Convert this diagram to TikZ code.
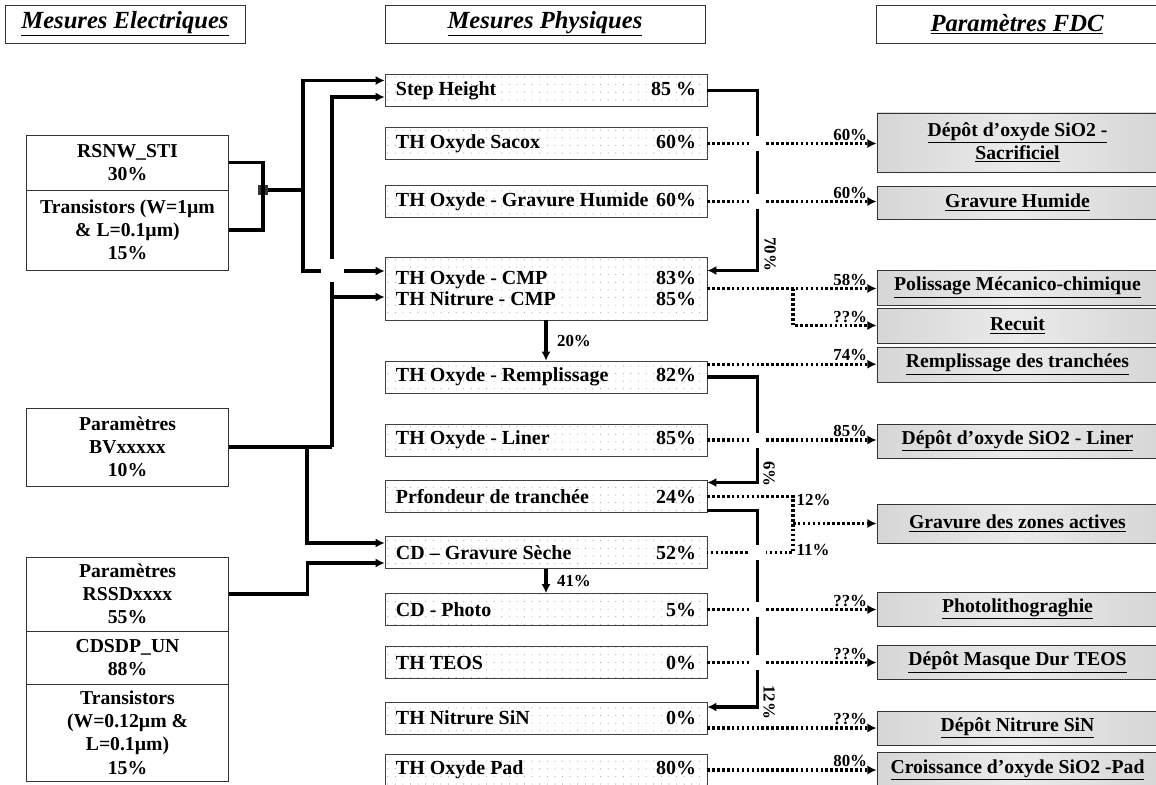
\documentclass[tikz,border=0pt]{standalone}
\usepackage{fontspec}
\setmainfont{Liberation Serif}
\usetikzlibrary{arrows.meta,calc,patterns.meta}

% one line of a measure box: name left, value right
\newcommand{\prow}[2]{\makebox[7.5cm]{#1\hfill#2}}

\tikzset{
  hdr/.style={draw=black!80, minimum height=0.95cm, inner sep=0pt, font=\fontsize{17.5}{20}\selectfont\bfseries\itshape},
  elec/.style={draw=black!80, fill=white, minimum width=5.05cm, align=center, inner sep=0pt, font=\fontsize{14}{16.5}\selectfont\bfseries},
  phys/.style={draw=black!75, preaction={fill=white}, pattern={Dots[distance=0.19cm,radius=0.4pt]}, pattern color=black!35,
    minimum width=8.05cm, minimum height=0.8cm, inner sep=0pt, align=left, font=\fontsize{14.2}{15}\selectfont\bfseries},
  fdc/.style={draw=black!80, left color=gray!32, right color=gray!32, middle color=gray!16,
    minimum width=7.03cm, minimum height=0.85cm, align=center, inner sep=0pt, font=\fontsize{14}{16.5}\selectfont\bfseries},
  link/.style={line width=2.4pt},
  linkarr/.style={link, -{Latex[length=6.5pt,width=6.5pt]}},
  dotlink/.style={line width=2.4pt, dash pattern=on 1.8pt off 1.7pt},
  dotarr/.style={dotlink, -{Latex[length=6.5pt,width=6.5pt]}},
  pct/.style={font=\fontsize{12}{12}\selectfont\bfseries, inner sep=1pt},
  pctl/.style={pct, pos=1, anchor=south east, xshift=-0.16cm},
  pctd/.style={pct, midway, anchor=west, xshift=0.2cm},
  junc/.style={fill=black!80, minimum size=0.25cm, inner sep=0pt},
}

\begin{document}
\begin{tikzpicture}[x=0.025cm,y=-0.025cm]
  \fill[white] (0,0) rectangle (1156,784);
  \useasboundingbox (0,0) rectangle (1156,784);

  % column titles
  \node[hdr, minimum width=6cm] (hElec) at (125,24) {\underline{Mesures Electriques}};
  \node[hdr, minimum width=8cm] (hPhys) at (545,24) {\underline{Mesures Physiques}};
  \node[hdr, minimum width=7.05cm] (hFdc) at (1017,24) {\underline{Paramètres FDC}};

  % electrical measures
  \node[elec, minimum height=1.375cm] (rsnw) at (127.5,162.5) {RSNW\_STI\\30\%};
  \node[elec, minimum height=2cm] (trA) at (127.5,230) {Transistors (W=1µm\\\& L=0.1µm)\\15\%};
  \node[elec, minimum height=1.95cm] (bv) at (127.5,447) {Paramètres\\BVxxxxx\\10\%};
  \node[elec, minimum height=1.85cm] (rssd) at (127.5,594) {Paramètres\\RSSDxxxx\\55\%};
  \node[elec, minimum height=1.325cm] (cdsdp) at (127.5,657.5) {CDSDP\_UN\\88\%};
  \node[elec, minimum height=2.425cm] (trB) at (127.5,732.5) {Transistors\\(W=0.12µm \&\\L=0.1µm)\\15\%};

  % physical measures
  \node[phys] (step) at (546,90.5) {\prow{Step Height}{85 \%}};
  \node[phys] (sacox) at (546,143.5) {\prow{TH Oxyde Sacox}{60\%}};
  \node[phys] (ghum) at (546,201.5) {\prow{TH Oxyde - Gravure Humide}{60\%}};
  \node[phys, minimum height=1.575cm] (cmp) at (546,288.5) {\prow{TH Oxyde - CMP}{83\%}\\\prow{TH Nitrure - CMP}{85\%}};
  \node[phys] (rempl) at (546,377) {\prow{TH Oxyde - Remplissage}{82\%}};
  \node[phys] (liner) at (546,440) {\prow{TH Oxyde - Liner}{85\%}};
  \node[phys] (prof) at (546,496.5) {\prow{Prfondeur de tranchée}{24\%}};
  \node[phys] (cdgs) at (546,552.5) {\prow{CD – Gravure Sèche}{52\%}};
  \node[phys] (cdph) at (546,609.5) {\prow{CD - Photo}{5\%}};
  \node[phys] (teos) at (546,662.5) {\prow{TH TEOS}{0\%}};
  \node[phys] (nsin) at (546,718) {\prow{TH Nitrure SiN}{0\%}};
  \node[phys] (pad) at (546,770) {\prow{TH Oxyde Pad}{80\%}};

  % process steps
  \node[fdc, minimum height=1.475cm] (sacr) at (1017.5,142.5) {\underline{Dépôt d’oxyde SiO2 -}\\\underline{Sacrificiel}};
  \node[fdc, minimum height=0.825cm] (fghum) at (1017.5,202.5) {\underline{Gravure Humide}};
  \node[fdc, minimum height=0.875cm] (poli) at (1017.5,287.5) {\underline{Polissage Mécanico-chimique}};
  \node[fdc, minimum height=0.875cm] (recuit) at (1017.5,325.5) {\underline{Recuit}};
  \node[fdc, minimum height=0.875cm] (frempl) at (1017.5,364.5) {\underline{Remplissage des tranchées}};
  \node[fdc] (fliner) at (1017.5,441) {\underline{Dépôt d’oxyde SiO2 - Liner}};
  \node[fdc, minimum height=0.975cm] (gza) at (1017.5,523.5) {\underline{Gravure des zones actives}};
  \node[fdc] (photo) at (1017.5,609) {\underline{Photolithograghie}};
  \node[fdc] (masque) at (1017.5,662.5) {\underline{Dépôt Masque Dur TEOS}};
  \node[fdc] (fnsin) at (1017.5,728) {\underline{Dépôt Nitrure SiN}};
  \node[fdc, minimum height=0.875cm] (crois) at (1017.5,770) {\underline{Croissance d’oxyde SiO2 -Pad}};

  % electrical -> physical
  \node[junc] (jA) at (263,190) {};
  \draw[link] (rsnw.east) -| (jA.center) |- (trA.east);
  \coordinate (vA) at (303,190);
  \draw[link] (jA) -- (vA);
  \draw[linkarr] (vA) |- ($(step.west)+(0,-10)$);
  \draw[linkarr] (vA) |- ($(cmp.west)+(0,-17.5)$);
  \coordinate (vB) at (332,447);
  \coordinate (vC) at (307,447);
  \draw[link] (bv.east) -- (vB);
  \draw[linkarr] (vB) |- ($(step.west)+(0,6.5)$);
  \draw[linkarr] (vB) |- ($(cmp.west)+(0,8.5)$);
  \draw[linkarr] (vC) |- ($(cdgs.west)+(0,-9.5)$);
  \draw[linkarr] (rssd.east) -- ++(79,0) |- ($(cdgs.west)+(0,10.5)$);

  % physical -> physical
  \draw[linkarr] (step.east) -- ++(50,0) |- ($(cmp.east)+(0,-18)$);
  \node[pct, rotate=-90] (l70) at (770,254) {70\%};
  \draw[linkarr] (cmp.south) -- (rempl.north) node[pctd] (l20) {20\%};
  \draw[linkarr] (rempl.east) -- ++(50,0) |- ($(prof.east)+(0,-14)$);
  \node[pct, rotate=-90] (l6) at (769,474) {6\%};
  \draw[linkarr] ($(prof.east)+(0,14)$) -- ++(50,0) |- ($(nsin.east)+(0,-11)$);
  \node[pct, rotate=-90] (l12b) at (769,702) {12\%};
  \draw[linkarr] (cdgs.south) -- (cdph.north) node[pctd] (l41) {41\%};

  % physical -> process steps
  \draw[dotarr] (sacox.east) -- (sacox.east -| sacr.west) node[pctl] (l60a) {60\%};
  \draw[dotarr] (ghum.east) -- (ghum.east -| fghum.west) node[pctl] (l60b) {60\%};
  \draw[dotarr] (cmp.east) -- (cmp.east -| poli.west) node[pctl] (l58) {58\%};
  \coordinate (bC) at (793,288.5);
  \draw[dotarr] (bC) |- (recuit.west) node[pctl] (lq1) {??\%};
  \coordinate (rDot) at ($(rempl.north east)+(0,3.5)$);
  \draw[dotarr] (rDot) -- (rDot -| frempl.west) node[pctl] (l74) {74\%};
  \draw[dotarr] (liner.east) -- (liner.east -| fliner.west) node[pctl] (l85) {85\%};
  \coordinate (bP) at (793,496.5);
  \draw[dotlink] (prof.east) -- (bP) |- (cdgs.east);
  \draw[dotarr] (bP |- gza.west) -- (gza.west);
  \node[pct, anchor=west] (l12a) at (795,500) {12\%};
  \node[pct, anchor=west] (l11) at (795,550) {11\%};
  \draw[dotarr] (cdph.east) -- (cdph.east -| photo.west) node[pctl] (lq2) {??\%};
  \draw[dotarr] (teos.east) -- (teos.east -| masque.west) node[pctl] (lq3) {??\%};
  \coordinate (nDot) at ($(nsin.east)+(0,10)$);
  \draw[dotarr] (nDot) -- (nDot -| fnsin.west) node[pctl] (lq4) {??\%};
  \draw[dotarr] (pad.east) -- (pad.east -| crois.west) node[pctl] (l80) {80\%};

  % line crossings
  \foreach \y in {143.5,201.5,440,552.5,609.5,662.5}
    \fill[white] (749,\y-7.5) rectangle (766,\y+7.5);
  \fill[white] (321,259) rectangle (344,282);
\end{tikzpicture}
\end{document}
